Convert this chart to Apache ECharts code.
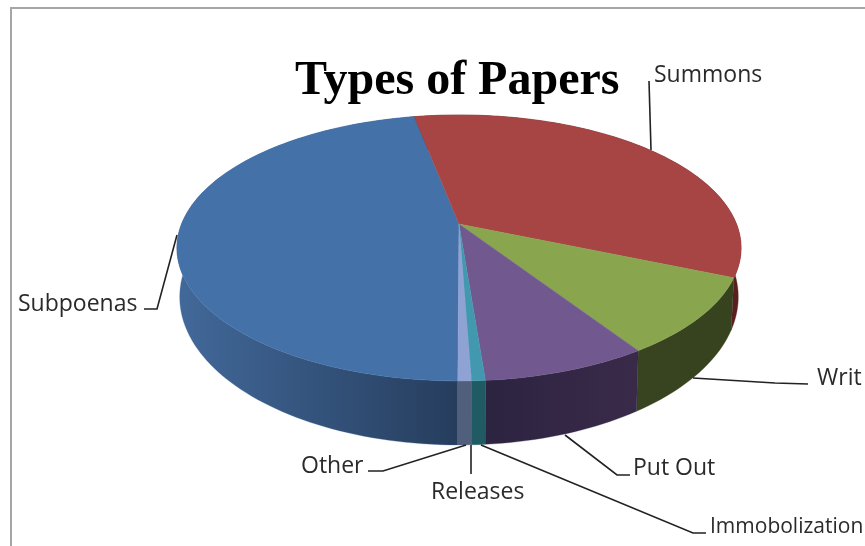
<!DOCTYPE html>
<html><head><meta charset="utf-8">
<style>html,body{margin:0;padding:0;background:#fff}#c{width:865px;height:546px}</style>
<script src="https://cdn.jsdelivr.net/npm/echarts@6/dist/echarts.min.js"></script>
</head><body><div id="c"></div>
<script>
// Data
var categories = ['Subpoenas','Summons','Writ','Put Out','Immobolization','Releases','Other'];
var shares = [46.9, 34.4, 9.4, 8.0, 0.65, 0.02, 0.63];
var chartTitle = 'Types of Papers';

// Styles
var topColors = ['#4471a8','#a64543','#89a54e','#71588f','#4198af','#4198af','#8fa2d4'];
var wallLeft  = ['#42699a','#5a1f1e','#38441f','#2c2440','#205a63','#205a63','#505f7c'];
var wallRight = ['#263d5d','#5a1f1e','#37431f','#3a2a4a','#205a63','#205a63','#505f7c'];

// Layout: projection of the disc and label placement
var P = {cx:459, cy:224, A:277.5, B:128.7, k:0.18, start:180.2, xs:0.99, ya:21, yb:1.113};
var labelLayout = [
  {x:18,  y:304, size:23, line:[[144,309],[157,309],[177,235]]},
  {x:654, y:75,  size:23, line:[[649,81],[651,150]]},
  {x:817, y:378, size:23, line:[[693,378],[775,383],[808,384]]},
  {x:633, y:468, size:23, line:[[565,435],[617,475],[630,475]]},
  {x:710, y:527, size:21, line:[[481,445],[693,533],[706,533]]},
  {x:431, y:492, size:23, line:[[471,445],[471,474]]},
  {x:301, y:466, size:23, line:[[368,471],[383,471],[466,445]]}
];

var total = shares.reduce(function(a,b){return a+b;},0);
function proj(deg){
  var t = deg*Math.PI/180, x = Math.sin(t), y = -Math.cos(t), d = 1-P.k*y;
  return [P.cx+P.A*x/d, P.cy+P.B*y/d];
}
function lower(p){ return [P.cx+P.xs*(p[0]-P.cx), P.ya+P.yb*p[1]]; }
function arc(a,b){
  var n = Math.max(2,Math.ceil(Math.abs(b-a)/1.5)), pts=[];
  for(var i=0;i<=n;i++) pts.push(proj(a+(b-a)*i/n));
  return pts;
}
function angles(idx,val){
  var s=0; for(var i=0;i<idx;i++) s+=shares[i];
  var a=P.start+s/total*360; return [a,a+val/total*360];
}
function renderWall(params,api){
  var r=angles(params.dataIndex,api.value(0)), top=arc(r[0],r[1]);
  var bot=top.map(lower).reverse(), pts=top.concat(bot), i=params.dataIndex;
  return {type:'polygon',shape:{points:pts},style:{
    fill:new echarts.graphic.LinearGradient(0,0,1,0,[{offset:0,color:wallLeft[i]},{offset:1,color:wallRight[i]}]),
    stroke:wallLeft[i],lineWidth:0.3}};
}
function renderTop(params,api){
  var r=angles(params.dataIndex,api.value(0)), i=params.dataIndex;
  return {type:'polygon',shape:{points:[[P.cx,P.cy]].concat(arc(r[0],r[1]))},
    style:{fill:topColors[i],stroke:topColors[i],lineWidth:0.4}};
}
function renderLabel(params,api){
  var i=params.dataIndex, l=labelLayout[i];
  return {type:'group',children:[
    {type:'polyline',shape:{points:l.line},style:{fill:null,stroke:'#222',lineWidth:1.6}},
    {type:'text',style:{x:l.x,y:l.y,text:api.value(1),fill:'#2a2a2a',
      font:l.size+'px "Open Sans"',textAlign:'left',textVerticalAlign:'middle'}}
  ]};
}
var seriesData = shares.map(function(v,i){return {name:categories[i],value:[v,categories[i]]};});
var chart = echarts.init(document.getElementById('c'),null,{renderer:'canvas'});
chart.setOption({
  animation:false,
  backgroundColor:'#fff',
  title:{text:chartTitle,left:295,top:58,padding:0,
    textStyle:{fontFamily:'"Liberation Serif"',fontWeight:'bold',fontSize:48,color:'#000'}},
  graphic:[{type:'polyline',shape:{points:[[11,546],[11,8],[865,8]]},
    style:{fill:null,stroke:'#a6a6a6',lineWidth:2},silent:true}],
  series:[
    {type:'custom',coordinateSystem:'none',renderItem:renderWall,data:seriesData,z:2,silent:true},
    {type:'custom',coordinateSystem:'none',renderItem:renderTop,data:seriesData,z:3,silent:true},
    {type:'custom',coordinateSystem:'none',renderItem:renderLabel,data:seriesData,z:4,silent:true,
      encode:{itemName:1},dimensions:[{name:'v',type:'number'},{name:'n',type:'ordinal'}]}
  ]
});
</script></body></html>
